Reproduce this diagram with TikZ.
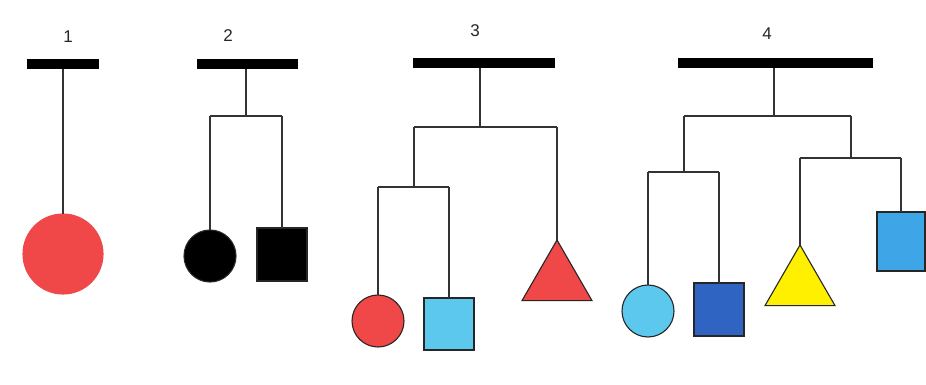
\documentclass[tikz,border=0pt]{standalone}
\usepackage{fontspec}
\setmainfont{Liberation Sans}
\usetikzlibrary{shapes.geometric}
\definecolor{mred}{HTML}{F04848}
\definecolor{lblue}{HTML}{5CC8EE}
\definecolor{dblue}{HTML}{2F64C2}
\definecolor{mblue}{HTML}{3EA6E6}
\definecolor{myellow}{HTML}{FFF000}
\definecolor{wire}{HTML}{333333}
\begin{document}
\begin{tikzpicture}[x=1pt,y=-1pt,
  bar/.style={rectangle,fill=black,inner sep=0pt,outer sep=0pt,minimum height=10pt},
  lbl/.style={font=\fontsize{17}{20}\selectfont,text=black!85},
  conn/.style={draw=wire,line width=1.4pt},
  ball/.style={circle,inner sep=0pt,outer sep=0pt,draw=black!85,line width=1.1pt},
  box/.style={rectangle,inner sep=0pt,outer sep=0pt,draw=black!85,line width=1.1pt},
  tri/.style={regular polygon,regular polygon sides=3,inner sep=0pt,outer sep=0pt,minimum size=80.8pt,draw=black!85,line width=1.1pt}
]
\useasboundingbox[fill=white] (0,0) rectangle (926,385);

% ---------- group 1
\node[lbl] (l1) at (68,37) {1};
\node[bar,minimum width=72pt] (b1) at (63,64) {};
\node[ball,fill=mred,draw=mred,minimum size=80pt] (c1) at (63,254) {};
\draw[conn] (b1.south) -- (c1.north);

% ---------- group 2
\node[lbl] (l2) at (228,36) {2};
\node[bar,minimum width=101pt] (b2) at (247.5,64) {};
\coordinate (m2) at (246,116);
\coordinate (m2l) at (210,116);
\coordinate (m2r) at (282,116);
\node[ball,fill=black,minimum size=52pt] (c2) at (210,256) {};
\node[box,fill=black,minimum width=50pt,minimum height=53pt] (s2) at (282,254.5) {};
\draw[conn] (m2 |- b2.south) -- (m2);
\draw[conn] (m2l) -- (m2r);
\draw[conn] (m2l) -- (c2.north);
\draw[conn] (m2r) -- (s2.north);

% ---------- group 3
\node[lbl] (l3) at (475,31) {3};
\node[bar,minimum width=142pt] (b3) at (484,63.5) {};
\coordinate (m3) at (480,127);
\coordinate (m3l) at (414,127);
\coordinate (m3r) at (557,127);
\coordinate (n3) at (414,187);
\coordinate (n3l) at (378,187);
\coordinate (n3r) at (449,187);
\node[ball,fill=mred,minimum size=52pt] (c3) at (378,321) {};
\node[box,fill=lblue,minimum width=50pt,minimum height=52pt] (s3) at (449,324) {};
\node[tri,fill=mred] (t3) at (557,280.4) {};
\draw[conn] (m3 |- b3.south) -- (m3);
\draw[conn] (m3l) -- (m3r);
\draw[conn] (m3l) -- (n3);
\draw[conn] (m3r) -- (t3.corner 1);
\draw[conn] (n3l) -- (n3r);
\draw[conn] (n3l) -- (c3.north);
\draw[conn] (n3r) -- (s3.north);

% ---------- group 4
\node[lbl] (l4) at (767,34) {4};
\node[bar,minimum width=195pt] (b4) at (775.5,63.5) {};
\coordinate (m4) at (774,116);
\coordinate (m4l) at (684,116);
\coordinate (m4r) at (851,116);
\coordinate (n4) at (684,172);
\coordinate (n4l) at (648,172);
\coordinate (n4r) at (719,172);
\coordinate (p4) at (851,158);
\coordinate (p4l) at (800,158);
\coordinate (p4r) at (901,158);
\node[ball,fill=lblue,minimum size=52pt] (c4) at (648,311) {};
\node[box,fill=dblue,minimum width=50pt,minimum height=53pt] (s4) at (719,309.5) {};
\node[tri,fill=myellow] (t4) at (800,285.4) {};
\node[box,fill=mblue,minimum width=48pt,minimum height=59pt] (s5) at (901,241.5) {};
\draw[conn] (m4 |- b4.south) -- (m4);
\draw[conn] (m4l) -- (m4r);
\draw[conn] (m4l) -- (n4);
\draw[conn] (m4r) -- (p4);
\draw[conn] (n4l) -- (n4r);
\draw[conn] (n4l) -- (c4.north);
\draw[conn] (n4r) -- (s4.north);
\draw[conn] (p4l) -- (p4r);
\draw[conn] (p4l) -- (t4.corner 1);
\draw[conn] (p4r) -- (s5.north);
\end{tikzpicture}
\end{document}
